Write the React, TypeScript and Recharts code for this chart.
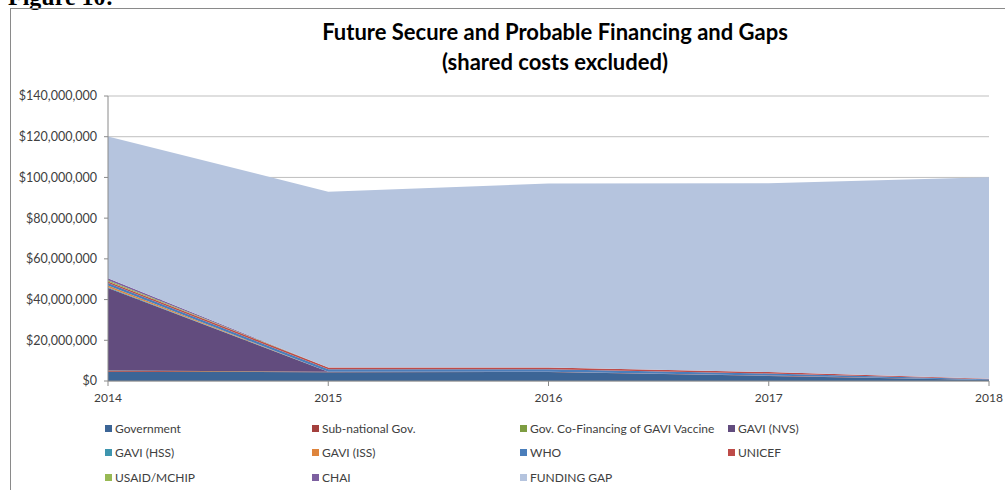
import React from "react";
import { AreaChart, Area, XAxis, YAxis, CartesianGrid, Legend } from "recharts";

const years = ["2014", "2015", "2016", "2017", "2018"];
const government = [4500000, 4300000, 4400000, 2500000, 500000];
const subNational = [500000, 200000, 200000, 200000, 50000];
const govCoFinancing = [200000, 0, 0, 0, 0];
const gaviNVS = [40500000, 0, 0, 0, 0];
const gaviHSS = [400000, 0, 0, 0, 0];
const gaviISS = [800000, 0, 0, 0, 0];
const who = [1200000, 1300000, 1200000, 1000000, 250000];
const unicef = [800000, 800000, 800000, 700000, 250000];
const usaid = [600000, 0, 0, 0, 0];
const chai = [1000000, 0, 0, 0, 0];
const fundingGap = [69600000, 86400000, 90400000, 92800000, 99000000];
const yTicks = [0, 20000000, 40000000, 60000000, 80000000, 100000000, 120000000, 140000000];

const series = [
  { key: "Government", values: government, color: "#3C6596" },
  { key: "Sub-national Gov.", values: subNational, color: "#A4403D" },
  { key: "Gov. Co-Financing of GAVI Vaccine", values: govCoFinancing, color: "#7E9D42" },
  { key: "GAVI (NVS)", values: gaviNVS, color: "#624C7E" },
  { key: "GAVI (HSS)", values: gaviHSS, color: "#3E95AE" },
  { key: "GAVI (ISS)", values: gaviISS, color: "#DE843C" },
  { key: "WHO", values: who, color: "#4A7EBB" },
  { key: "UNICEF", values: unicef, color: "#BE4B48" },
  { key: "USAID/MCHIP", values: usaid, color: "#98B954" },
  { key: "CHAI", values: chai, color: "#7D60A0" },
  { key: "FUNDING GAP", values: fundingGap, color: "#B5C4DE" },
];

const data = years.map((y, i) => {
  const row: Record<string, number | string> = { year: y };
  series.forEach((s) => {
    row[s.key] = s.values[i];
  });
  return row;
});

const fmt = (v: number) => "$" + v.toLocaleString("en-US");

const FONT = "Lato, 'Open Sans', sans-serif";

const LegendContent = () => (
  <div style={{ display: "grid", gridTemplateColumns: "207px 208px 208px 208px", rowGap: 0 }}>
    {series.map((s) => (
      <div
        key={s.key}
        style={{
          display: "flex",
          alignItems: "center",
          height: 24.5,
          fontFamily: FONT,
          fontSize: 12,
          color: "#404040",
          whiteSpace: "nowrap",
        }}
      >
        <span style={{ display: "inline-block", width: 7, height: 7, background: s.color, marginRight: 3 }} />
        {s.key}
      </div>
    ))}
  </div>
);

export default function App() {
  return (
    <div style={{ position: "absolute", left: 0, top: 0, width: 1005, height: 490, overflow: "hidden", background: "#fff" }}>
      <div
        style={{
          position: "absolute",
          left: 8,
          top: -15,
          fontFamily: "'Liberation Serif', serif",
          fontWeight: "bold",
          fontSize: 24,
          lineHeight: "24px",
          color: "#000",
        }}
      >
        Figure 10:
      </div>
      <div
        style={{
          position: "absolute",
          left: 10,
          top: 8,
          width: 1020,
          height: 520,
          border: "1px solid #8a8a8a",
          boxSizing: "border-box",
        }}
      />
      <div
        style={{
          position: "absolute",
          left: 0,
          width: 1110,
          top: 17,
          textAlign: "center",
          fontFamily: FONT,
          fontWeight: "bold",
          fontSize: 22,
          lineHeight: "30px",
          color: "#000",
        }}
      >
        Future Secure and Probable Financing and Gaps
        <br />
        (shared costs excluded)
      </div>
      <div style={{ position: "absolute", left: 0, top: 0 }}>
        <AreaChart width={1005} height={490} data={data} margin={{ top: 96, right: 16, bottom: 79, left: 10 }}>
          <CartesianGrid vertical={false} stroke="#BFBFBF" />
          <XAxis
            dataKey="year"
            stroke="#8a8a8a"
            tickLine={{ stroke: "#8a8a8a" }}
            tickSize={5}
            tickMargin={7}
            tick={{ fill: "#404040", fontSize: 12, fontFamily: FONT }}
            interval={0}
            height={30}
          />
          <YAxis
            domain={[0, 140000000]}
            ticks={yTicks}
            tickFormatter={fmt}
            stroke="#8a8a8a"
            tickSize={4}
            tickMargin={7}
            tick={{ fill: "#404040", fontSize: 12.5, fontFamily: FONT }}
            width={98}
            interval={0}
          />
          {series.map((s) => (
            <Area
              key={s.key}
              type="linear"
              dataKey={s.key}
              stackId="a"
              fill={s.color}
              fillOpacity={1}
              stroke="none"
              isAnimationActive={false}
              dot={false}
              activeDot={false}
            />
          ))}
          <Legend
            layout="horizontal"
            verticalAlign="middle"
            align="center"
            content={() => <LegendContent />}
            wrapperStyle={{ left: 105, top: 416, width: 840 }}
          />
        </AreaChart>
      </div>
    </div>
  );
}
